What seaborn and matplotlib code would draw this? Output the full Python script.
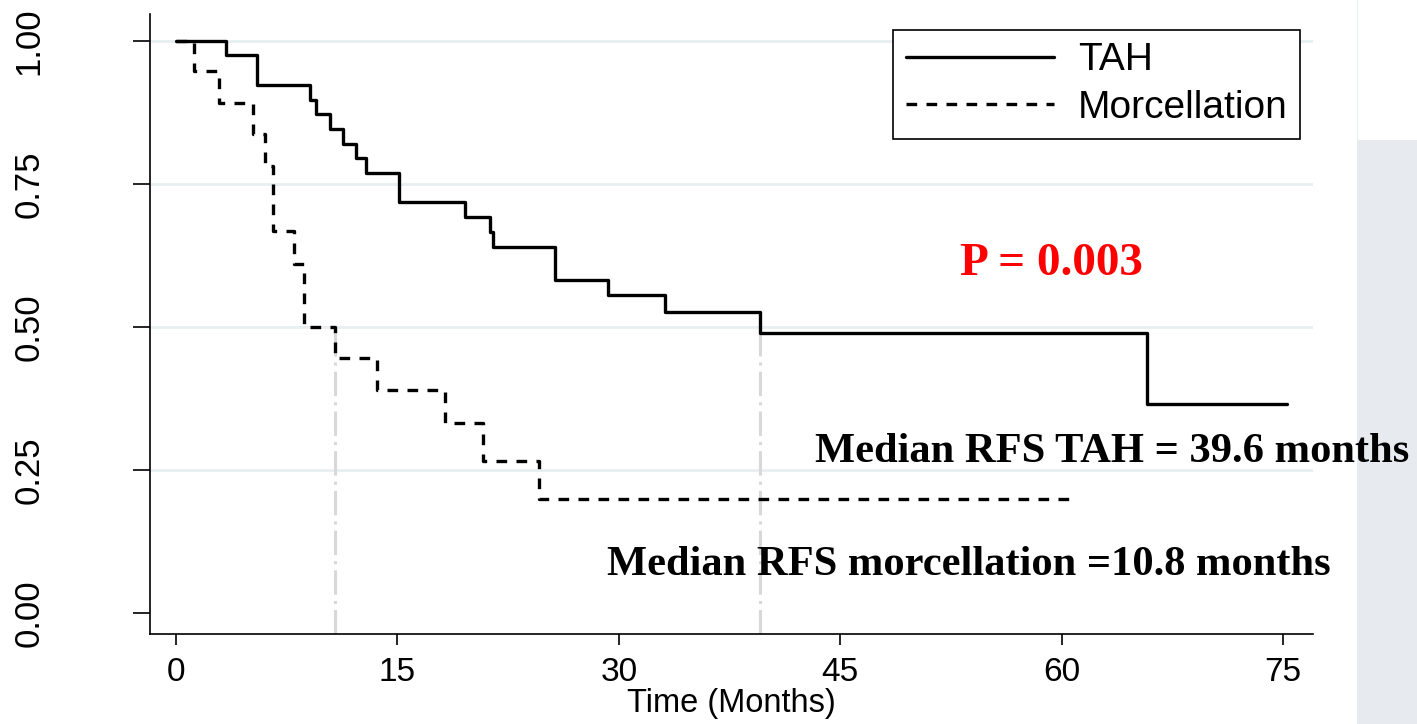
import matplotlib
matplotlib.use("Agg")
import matplotlib.pyplot as plt
import seaborn as sns
import pandas as pd
from matplotlib.patches import Rectangle
from matplotlib.lines import Line2D

# ---- data ----
tah_time = [0, 3.4, 5.5, 9.1, 9.5, 10.4, 11.3, 12.2, 12.9, 15.1, 19.6, 21.3, 21.5,
            25.7, 29.3, 33.1, 39.6, 65.8, 75.3]
tah_surv = [1.0, 0.976, 0.923, 0.897, 0.872, 0.846, 0.820, 0.796, 0.769, 0.718, 0.693,
            0.666, 0.639, 0.583, 0.556, 0.526, 0.489, 0.365, 0.365]

morc_time = [0, 1.2, 2.9, 5.2, 6.0, 6.6, 8.0, 8.7, 10.8, 13.6, 18.2, 20.8, 24.6, 60.6]
morc_surv = [1.0, 0.948, 0.892, 0.837, 0.781, 0.668, 0.611, 0.500, 0.445, 0.389,
             0.333, 0.266, 0.199, 0.199]

group_labels = ["TAH", "Morcellation"]
median_times = [39.6, 10.8]
median_level = 0.5

xticks = [0, 15, 30, 45, 60, 75]
yticks = [0.0, 0.25, 0.50, 0.75, 1.00]
ytick_labels = ["0.00", "0.25", "0.50", "0.75", "1.00"]
grid_levels = [0.25, 0.50, 0.75, 1.00]

p_text = "P = 0.003"
median_texts = ["Median RFS TAH = 39.6 months", "Median RFS morcellation =10.8 months"]
xlabel = "Time (Months)"

# ---- figure ----
sns.set_theme(style="white")
plt.rcParams["font.family"] = ["Liberation Sans", "DejaVu Sans"]

W, H = 1417, 724
fig = plt.figure(figsize=(W / 100, H / 100), dpi=100)
fig.patch.set_facecolor("white")

# faint background picture strip at right edge
fig.add_artist(Rectangle((1357 / W, 0), (W - 1357) / W, (H - 140) / H,
                         transform=fig.transFigure, color="#e7ebf0", zorder=0, lw=0))
fig.add_artist(Line2D([1357 / W, 1357 / W], [(H - 140) / H, 1], transform=fig.transFigure,
                      color="#eef1f4", lw=1, zorder=0))

left, right, bottom, top = 150, 1313, 634, 14
ax = fig.add_axes([left / W, 1 - bottom / H, (right - left) / W, (bottom - top) / H])
ax.set_facecolor("white")

x0, xscale = 176, 14.76
ax.set_xlim((left - x0) / xscale, (right - x0) / xscale)
y0, yscale = 613, 572
ax.set_ylim(-(bottom - y0) / yscale, (y0 - top) / yscale)

for lvl in grid_levels:
    ax.axhline(lvl, color="#e8eff1", lw=2, zorder=0)

for m in median_times:
    ax.vlines(m, ax.get_ylim()[0], median_level, color="#d8d8d8", lw=2.2,
              linestyles=(0, (8, 2, 1, 2)), zorder=1)

df_tah = pd.DataFrame({"time": tah_time, "surv": tah_surv})
df_morc = pd.DataFrame({"time": morc_time, "surv": morc_surv})

sns.lineplot(data=df_tah, x="time", y="surv", ax=ax, drawstyle="steps-post",
             estimator=None, sort=False, color="black", lw=2.4, zorder=3)
sns.lineplot(data=df_morc, x="time", y="surv", ax=ax, drawstyle="steps-post",
             estimator=None, sort=False, color="black", lw=2.4,
             linestyle=(0, (3.2, 2.8)), zorder=3)

sns.despine(ax=ax)
for s in ["left", "bottom"]:
    ax.spines[s].set_color("black")
    ax.spines[s].set_linewidth(1.2)

ax.set_xticks(xticks)
ax.set_xticklabels([str(t) for t in xticks])
ax.set_yticks(yticks)
ax.set_yticklabels(ytick_labels)
ax.tick_params(axis="x", direction="out", length=8, width=1.2, pad=8.5,
               labelsize=24, colors="black", bottom=True)
ax.tick_params(axis="y", direction="out", length=12, width=1.2, pad=63,
               labelsize=25, colors="black", left=True, labelrotation=90)
for lab in ax.get_yticklabels():
    lab.set_va("center")

ax.set_xlabel(xlabel, fontsize=23.5, labelpad=0, color="black")
ax.set_ylabel("")

handles = [Line2D([], [], color="black", lw=2.4),
           Line2D([], [], color="black", lw=2.4, linestyle=(0, (3.2, 2.8)))]
leg = ax.legend(handles, group_labels, loc="upper right",
                bbox_to_anchor=(1300 / W, 1 - 30 / H), bbox_transform=fig.transFigure,
                borderaxespad=0, fontsize=28, handlelength=3.8, handletextpad=0.62,
                borderpad=0.32, labelspacing=0.3, frameon=True, fancybox=False,
                framealpha=1, edgecolor="black")
leg.get_frame().set_linewidth(1.2)
for t in leg.get_texts():
    t.set_color("black")

serif = ["Liberation Serif", "DejaVu Serif"]
ax.text((1051 - x0) / xscale, (y0 - 264) / yscale, p_text, color="#ff0000",
        fontsize=34, fontweight="bold", family=serif, ha="center", va="center",
        clip_on=False)
ax.text((1112 - x0) / xscale, (y0 - 452) / yscale, median_texts[0], color="black",
        fontsize=30.6, fontweight="bold", family=serif, ha="center", va="center",
        clip_on=False)
ax.text((969 - x0) / xscale, (y0 - 565) / yscale, median_texts[1], color="black",
        fontsize=30.6, fontweight="bold", family=serif, ha="center", va="center",
        clip_on=False)

fig.savefig("out.png", dpi=100, facecolor="white")
